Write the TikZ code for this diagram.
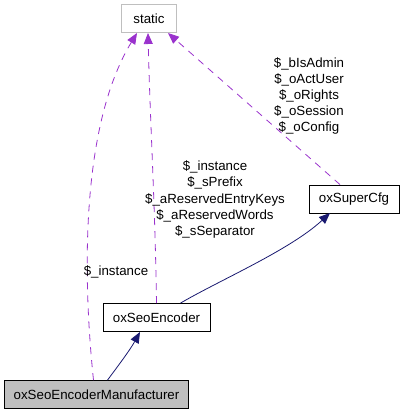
\documentclass[tikz,border=0pt]{standalone}
\usepackage{fontspec}
\setmainfont{Liberation Sans}
\usepackage{xcolor}
\usepackage{tikz}
\usetikzlibrary{arrows.meta}
\definecolor{usecol}{HTML}{9A32CD}
\definecolor{inhcol}{HTML}{191970}
\definecolor{boxgray}{HTML}{BFBFBF}
\tikzset{
  cls/.style={draw=black, line width=0.8pt, inner xsep=9pt, inner ysep=0pt, minimum height=28pt, font=\fontsize{13.3}{16}\selectfont},
  uses/.style={usecol, line width=0.8pt, dash pattern=on 7pt off 6pt, -{Triangle[length=11pt,width=9pt]}},
  inherits/.style={inhcol, line width=0.8pt, -{Triangle[length=11pt,width=9pt]}},
  lbl/.style={align=center, inner sep=0pt, font=\fontsize{13.3}{16.2}\selectfont}
}
\begin{document}
\begin{tikzpicture}[x=1pt,y=-1pt]
\useasboundingbox (0,0) rectangle (403,413);

\node[cls, draw=boxgray, minimum width=55pt] (static) at (149,18.5) {static};
\node[cls, fill=boxgray, minimum width=183pt] (manuf) at (96.5,394.5) {oxSeoEncoderManufacturer};
\node[cls, minimum width=107pt] (enc) at (156.5,317.5) {oxSeoEncoder};
\node[cls, minimum width=90pt] (cfg) at (354,199) {oxSuperCfg};

% inheritance
\draw[inherits] (manuf.north) ++(11,0) .. controls (118,366) and (130,350) .. (140,332);
\draw[inherits] (enc.north) ++(24,0) .. controls (220,280) and (290,250) .. (330,213);

% member use
\draw[uses] (manuf.north) ++(-3,0) .. controls (84,290) and (78,130) .. (137,33);
\draw[uses] (enc.north) .. controls (155,200) and (150,120) .. (148,33);
\draw[uses] (cfg.north) ++(-14,0) -- (168,33);

\node[lbl] (lblmanuf) at (116,271.5) {\$\_instance};
\node[lbl] (lblenc) at (215,199.5) {\$\_instance\\\$\_sPrefix\\\$\_aReservedEntryKeys\\\$\_aReservedWords\\\$\_sSeparator};
\node[lbl] (lblcfg) at (309,96) {\$\_bIsAdmin\\\$\_oActUser\\\$\_oRights\\\$\_oSession\\\$\_oConfig};
\end{tikzpicture}
\end{document}
